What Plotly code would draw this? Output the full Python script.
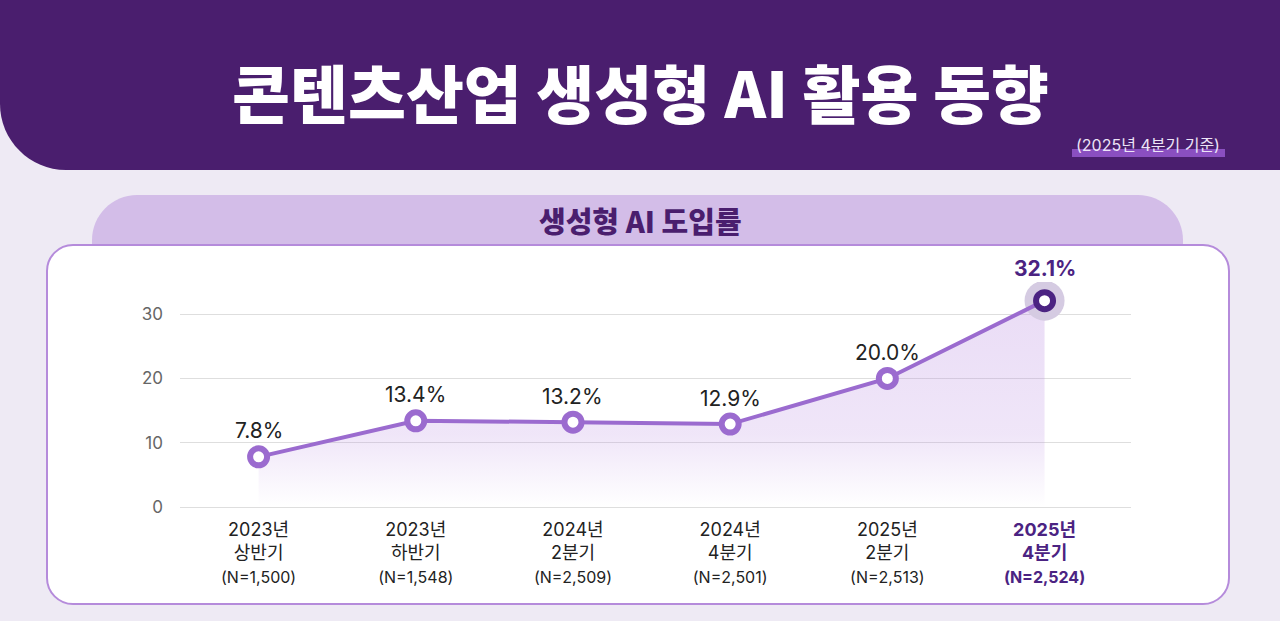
import plotly.graph_objects as go

# 조사 시점 / 표본 수 / 생성형 AI 도입률(%)
periods = ["2023년<br>상반기", "2023년<br>하반기", "2024년<br>2분기", "2024년<br>4분기", "2025년<br>2분기", "2025년<br>4분기"]
samples = ["1,500", "1,548", "2,509", "2,501", "2,513", "2,524"]
rates = [7.8, 13.4, 13.2, 12.9, 20.0, 32.1]
y_ticks = [0, 10, 20, 30]

FONT = "Noto Sans CJK KR"
NUMFONT = "Inter, Noto Sans CJK KR"
DARK = "#4A1E6E"
LINE = "#9B6BCF"
LAST = "#4B2382"

W, H = 1280, 621
L, R, T, B = 180, 149, 282, 114  # plot area in pixels


def px(x):
    return (x - L) / (W - L - R)


def py(y):
    return (H - B - y) / (H - T - B)


def rounded(x0, y0, x1, y1, r_tl=0, r_tr=0, r_br=0, r_bl=0):
    # rounded rectangle path in paper coords from pixel coords
    k = 0.45
    p = lambda x, y: f"{px(x)},{py(y)}"
    d = f"M {p(x0 + r_tl, y0)} L {p(x1 - r_tr, y0)} "
    d += f"C {p(x1 - r_tr * k, y0)} {p(x1, y0 + r_tr * k)} {p(x1, y0 + r_tr)} "
    d += f"L {p(x1, y1 - r_br)} "
    d += f"C {p(x1, y1 - r_br * k)} {p(x1 - r_br * k, y1)} {p(x1 - r_br, y1)} "
    d += f"L {p(x0 + r_bl, y1)} "
    d += f"C {p(x0 + r_bl * k, y1)} {p(x0, y1 - r_bl * k)} {p(x0, y1 - r_bl)} "
    d += f"L {p(x0, y0 + r_tl)} "
    d += f"C {p(x0, y0 + r_tl * k)} {p(x0 + r_tl * k, y0)} {p(x0 + r_tl, y0)} Z"
    return d


xs = list(range(len(rates)))
ticktext = []
for i, (p_, n) in enumerate(zip(periods, samples)):
    if i == len(periods) - 1:
        ticktext.append(f"<span style='color:{LAST}'><b>{p_}<br><span style='font-size:16px'>(N={n})</span></b></span>")
    else:
        ticktext.append(f"{p_}<br><span style='font-size:16px'>(N={n})</span>")

fig = go.Figure()

# gradient area under the line
fig.add_trace(go.Scatter(
    x=xs, y=rates, mode="none", fill="tozeroy",
    fillgradient=dict(type="vertical",
                      colorscale=[[0, "rgba(185,140,225,0)"], [0.35, "rgba(185,140,225,0.22)"],
                                  [1, "rgba(185,140,225,0.3)"]]),
    hoverinfo="skip", showlegend=False))

# halo on the latest point
fig.add_trace(go.Scatter(
    x=[xs[-1]], y=[rates[-1]], mode="markers",
    marker=dict(size=40, color="#D5CBE2"), hoverinfo="skip", showlegend=False))

fig.add_trace(go.Scatter(
    x=xs, y=rates, mode="lines+markers",
    line=dict(color=LINE, width=4),
    marker=dict(size=17, color="white",
                line=dict(color=[LINE] * (len(rates) - 1) + [LAST], width=6)),
    cliponaxis=False, showlegend=False))

for i, v in enumerate(rates):
    last = i == len(rates) - 1
    fig.add_annotation(
        x=xs[i], y=v, text=f"<b>{v:.1f}%</b>" if last else f"{v:.1f}%",
        showarrow=False, yshift=32 if last else 26,
        font=dict(family=NUMFONT, size=21, color=LAST if last else "#222222"))

shapes = [
    # header band
    dict(type="path", path=rounded(0, -5, W + 5, 170, r_bl=66), fillcolor=DARK, line_width=0),
    # highlight under the base-date note
    dict(type="rect", x0=px(1072), x1=px(1225), y0=py(157), y1=py(149),
         fillcolor="#8A4FC0", line_width=0),
    # tab behind the chart title
    dict(type="path", path=rounded(92, 195, 1183, 260, r_tl=45, r_tr=45), fillcolor="#D3BDE8", line_width=0),
    # white card
    dict(type="path", path=rounded(47, 245, 1229, 604, 26, 26, 26, 26), fillcolor="white",
         line=dict(color="#B58BDB", width=2)),
]
for s in shapes:
    s.update(xref="paper", yref="paper", layer="below")
fig.update_layout(shapes=shapes)

header_texts = [
    ("콘텐츠산업 생성형 AI 활용 동향", 640, 90, dict(family=FONT, size=63, color="white", weight=900)),
    ("(2025년 4분기 기준)", 1148, 145, dict(family=NUMFONT, size=16, color="#EDE4F7")),
    ("생성형 AI 도입률", 640, 220, dict(family=FONT, size=29, color=DARK, weight=900)),
]
for text, x, y, f in header_texts:
    fig.add_annotation(x=px(x), y=py(y), xref="paper", yref="paper", showarrow=False,
                       xanchor="center", yanchor="middle", text=text, font=f)

fig.update_layout(
    width=W, height=H,
    margin=dict(l=L, r=R, t=T, b=B),
    paper_bgcolor="#EEEAF4", plot_bgcolor="rgba(0,0,0,0)",
    font=dict(family=NUMFONT, color="#222222"),
    xaxis=dict(range=[-0.5, 5.55], tickvals=xs, ticktext=ticktext, showgrid=False,
               zeroline=False, showline=False, ticks="", ticklabelstandoff=10,
               tickfont=dict(family=NUMFONT, size=18, color="#222222"), fixedrange=True),
    yaxis=dict(range=[0, 35], tickvals=y_ticks, showgrid=True, gridcolor="#DEDEDE", gridwidth=1,
               zeroline=True, zerolinecolor="#DEDEDE", zerolinewidth=1, showline=False,
               ticks="", ticklabelstandoff=16,
               tickfont=dict(family=NUMFONT, size=17, color="#666666"), fixedrange=True),
)

fig.write_html("out.html", config={"displayModeBar": False},
               post_script="document.body.style.margin='0';")
